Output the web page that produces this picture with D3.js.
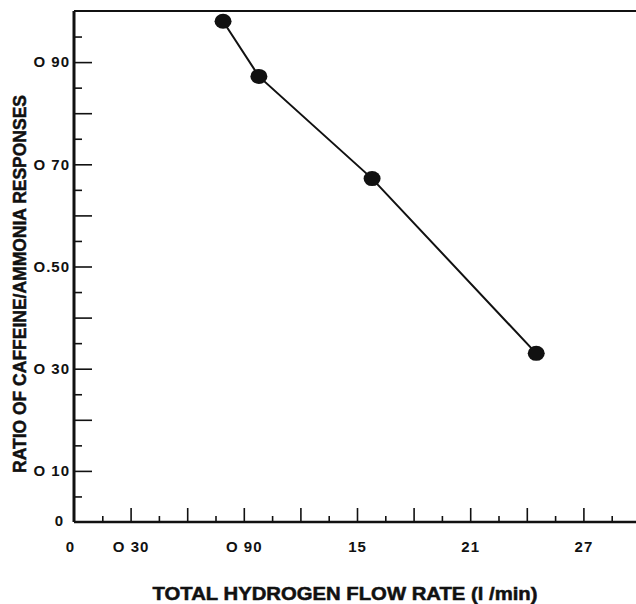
<!DOCTYPE html>
<html>
<head>
<meta charset="utf-8">
<script src="https://cdn.jsdelivr.net/npm/d3@7"></script>
<style>
  html, body { margin: 0; padding: 0; background: #fff; }
  svg { display: block; }
  .title { font-family: "Liberation Sans Narrow", "Arial Narrow", "Liberation Sans", sans-serif; font-weight: bold; fill: #111; stroke: #111; stroke-width: 0.5; }
</style>
</head>
<body>
<div id="chart"></div>
<script>
// Data
const flowRate = [0.79, 0.98, 1.58, 2.45];        // l/min
const ratio    = [0.98, 0.872, 0.672, 0.33];      // caffeine / ammonia

const yMajorTicks  = [0.1, 0.2, 0.3, 0.4, 0.5, 0.6, 0.7, 0.8, 0.9];
const yMinorTicks  = [0.05, 0.15, 0.25, 0.35, 0.45, 0.55, 0.65, 0.75, 0.85, 0.95];
const yTickLabels  = { 0: '0', 0.1: 'O 10', 0.3: 'O 30', 0.5: 'O.50', 0.7: 'O 70', 0.9: 'O 90' };

const xMajorTicks  = [0.3, 0.6, 0.9, 1.2, 1.5, 1.8, 2.1, 2.4, 2.7];
const xMinorTicks  = [0.15, 0.45, 0.75, 1.05, 1.35, 1.65, 1.95, 2.25, 2.55, 2.85];
const xTickLabels  = { 0.3: 'O 30', 0.9: 'O 90', 1.5: '15', 2.1: '21', 2.7: '27' };

const xTitle = 'TOTAL HYDROGEN FLOW RATE (l /min)';
const yTitle = 'RATIO OF CAFFEINE/AMMONIA RESPONSES';

const W = 636, H = 604;
const plot = { left: 74, right: 640, top: 11, bottom: 522 };

const x = d3.scaleLinear().domain([0, 3.0]).range([plot.left, plot.right]);
const y = d3.scaleLinear().domain([0, 1.0]).range([plot.bottom, plot.top]);

const svg = d3.select('#chart')
              .append('svg')
              .attr('width', W)
              .attr('height', H);

const points = flowRate.map((v, i) => ({ x: v, y: ratio[i] }));

// y axis: short ticks, long ticks, labels
const yAxisG = svg.append('g').attr('transform', `translate(${plot.left},0)`);

yAxisG.append('g')
  .call(d3.axisLeft(y).tickValues(yMinorTicks).tickSize(-8).tickFormat(''));

yAxisG.append('g')
  .call(d3.axisLeft(y).tickValues(yMajorTicks).tickSize(-18).tickFormat(''));

yAxisG.append('g')
  .attr('class', 'labels')
  .call(d3.axisLeft(y)
    .tickValues(Object.keys(yTickLabels).map(Number))
    .tickSize(0)
    .tickPadding(4)
    .tickFormat(d => yTickLabels[d]));

// x axis
const xAxisG = svg.append('g').attr('transform', `translate(0,${plot.bottom})`);

xAxisG.append('g')
  .call(d3.axisBottom(x).tickValues(xMinorTicks).tickSize(-6).tickFormat(''));

xAxisG.append('g')
  .call(d3.axisBottom(x).tickValues(xMajorTicks).tickSize(-14).tickFormat(''));

xAxisG.append('g')
  .attr('class', 'labels')
  .call(d3.axisBottom(x)
    .tickValues([0].concat(Object.keys(xTickLabels).map(Number)))
    .tickSize(0)
    .tickPadding(19)
    .tickFormat(d => d === 0 ? '0' : xTickLabels[d]));

// tidy axis styling
svg.selectAll('.domain').remove();
svg.selectAll('.tick line').attr('stroke', '#111').attr('stroke-width', 1.6);
svg.selectAll('.labels .tick text')
  .attr('font-family', '"Liberation Sans", Arial, sans-serif')
  .attr('font-weight', 'bold')
  .attr('font-size', 15)
  .attr('letter-spacing', 1)
  .attr('fill', '#111');
xAxisG.selectAll('.tick text').filter(d => d === 0).attr('dx', -4);
yAxisG.selectAll('.tick text').filter(d => d === 0).attr('dx', -6).attr('dy', '0.2em');

// frame: left, bottom, top
svg.append('line')
  .attr('x1', x(0)).attr('x2', x(0))
  .attr('y1', y(1.0)).attr('y2', y(0))
  .attr('stroke', '#111').attr('stroke-width', 3);

svg.append('line')
  .attr('x1', x(0)).attr('x2', x(3.0))
  .attr('y1', y(0)).attr('y2', y(0))
  .attr('stroke', '#111').attr('stroke-width', 2.5);

svg.append('line')
  .attr('x1', x(0)).attr('x2', x(3.0))
  .attr('y1', y(1.0)).attr('y2', y(1.0))
  .attr('stroke', '#111').attr('stroke-width', 2);

// data line and markers
const line = d3.line().x(d => x(d.x)).y(d => y(d.y));

svg.append('path')
  .datum(points)
  .attr('d', line)
  .attr('fill', 'none')
  .attr('stroke', '#111')
  .attr('stroke-width', 2);

svg.selectAll('.pt')
  .data(points)
  .enter()
  .append('ellipse')
  .attr('class', 'pt')
  .attr('cx', d => x(d.x))
  .attr('cy', d => y(d.y))
  .attr('rx', 8.5)
  .attr('ry', 7.5)
  .attr('fill', '#111');

// axis titles
svg.append('text')
  .attr('class', 'title')
  .attr('x', 345)
  .attr('y', 600)
  .attr('text-anchor', 'middle')
  .attr('font-size', 18)
  .attr('textLength', 385)
  .attr('lengthAdjust', 'spacingAndGlyphs')
  .text(xTitle);

svg.append('text')
  .attr('class', 'title')
  .attr('transform', 'translate(26,284) rotate(-90)')
  .attr('text-anchor', 'middle')
  .attr('font-size', 19)
  .attr('textLength', 378)
  .attr('lengthAdjust', 'spacingAndGlyphs')
  .text(yTitle);
</script>
</body>
</html>
